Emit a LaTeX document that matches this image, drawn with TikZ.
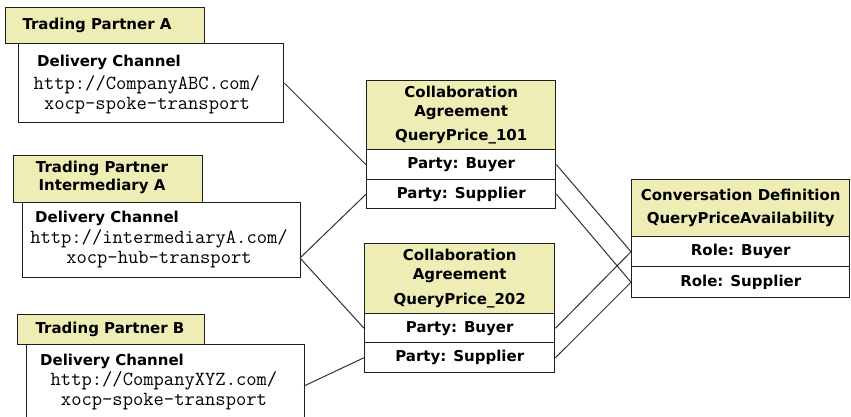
\documentclass[tikz,border=0pt]{standalone}
\usepackage{fontspec}
\setmainfont{DejaVu Sans}
\definecolor{hdrfill}{RGB}{238,237,181}
\definecolor{edge}{RGB}{30,30,30}
\definecolor{wire}{RGB}{50,50,50}
\begin{document}
\begin{tikzpicture}[x=0.75pt,y=-0.75pt,
  boxbase/.style={draw=edge, line width=1.1pt, inner sep=0pt, anchor=north west,
     font=\bfseries\fontsize{11.25}{14.25}\selectfont, align=center},
  hdr/.style={boxbase, fill=hdrfill},
  row/.style={boxbase, fill=white},
  lbl/.style={inner sep=0pt, font=\bfseries\fontsize{11.25}{13.5}\selectfont, align=center},
  mono/.style={inner sep=0pt, align=center, font=\ttfamily\fontsize{15}{15.3}\selectfont},
  wirestyle/.style={draw=wire, line width=0.75pt}]
\useasboundingbox (0,0) rectangle (851,417);
\clip (0,0) rectangle (851,417);
\fill[white] (0,0) rectangle (851,417);

% Trading Partner A
\node[row, minimum width=265*0.75pt, minimum height=79*0.75pt] (dca) at (18,43) {};
\node[hdr, minimum width=199*0.75pt, minimum height=36*0.75pt] (tpa) at (5,7) {};
\node[lbl] (tpat) at (97,25) {Trading Partner A};
\node[lbl] (dcat) at (109,62) {Delivery Channel};
\node[mono] (dcau) at (147,94.5) {http://CompanyABC.com/\\xocp-spoke-transport};

% Trading Partner Intermediary A
\node[row, minimum width=278*0.75pt, minimum height=75*0.75pt] (dci) at (22,202) {};
\node[hdr, minimum width=189*0.75pt, minimum height=47*0.75pt] (tpi) at (13,155) {};
\node[lbl] (tpit) at (102,177) {Trading Partner\\Intermediary A};
\node[lbl] (dcit) at (107,218) {Delivery Channel};
\node[mono] (dciu) at (159,249) {http://intermediaryA.com/\\xocp-hub-transport};

% Trading Partner B
\node[row, minimum width=278*0.75pt, minimum height=90*0.75pt] (dcb) at (26,344) {};
\node[hdr, minimum width=187*0.75pt, minimum height=30*0.75pt] (tpb) at (17,314) {};
\node[lbl] (tpbt) at (110,329) {Trading Partner B};
\node[lbl] (dcbt) at (112,361) {Delivery Channel};
\node[mono] (dcbu) at (164,391) {http://CompanyXYZ.com/\\xocp-spoke-transport};

% Collaboration Agreement 101
\node[hdr, minimum width=189*0.75pt, minimum height=69*0.75pt] (ca1h) at (366,80) {Collaboration\\Agreement\\[3.75pt]QueryPrice\_101};
\node[row, minimum width=189*0.75pt, minimum height=30*0.75pt] (ca1b) at (366,149) {Party: Buyer};
\node[row, minimum width=189*0.75pt, minimum height=29*0.75pt] (ca1s) at (366,179) {Party: Supplier};

% Collaboration Agreement 202
\node[hdr, minimum width=190*0.75pt, minimum height=70*0.75pt] (ca2h) at (364,243) {Collaboration\\Agreement\\[4.5pt]QueryPrice\_202};
\node[row, minimum width=190*0.75pt, minimum height=29*0.75pt] (ca2b) at (364,313) {Party: Buyer};
\node[row, minimum width=190*0.75pt, minimum height=30*0.75pt] (ca2s) at (364,342) {Party: Supplier};

% Conversation Definition
\node[hdr, minimum width=218*0.75pt, minimum height=57*0.75pt] (cdh) at (631,179) {Conversation Definition\\[3pt]QueryPriceAvailability};
\node[row, minimum width=218*0.75pt, minimum height=30*0.75pt] (cdb) at (631,236) {Role: Buyer};
\node[row, minimum width=218*0.75pt, minimum height=31*0.75pt] (cds) at (631,266) {Role: Supplier};

% connection points
\coordinate (ji) at (300,258);
\coordinate (jb) at (304,386);

% connectors
\draw[wirestyle] (dca.east) -- (ca1b.west);
\draw[wirestyle] (ji) -- (ca1s.west);
\draw[wirestyle] (ji) -- (ca2b.west);
\draw[wirestyle] (jb) -- (ca2s.west);
\draw[wirestyle] (ca1b.east) -- (cdb.west);
\draw[wirestyle] (ca1s.east) -- (cds.west);
\draw[wirestyle] (ca2b.east) -- (cdb.west);
\draw[wirestyle] (ca2s.east) -- (cds.west);
\end{tikzpicture}
\end{document}
